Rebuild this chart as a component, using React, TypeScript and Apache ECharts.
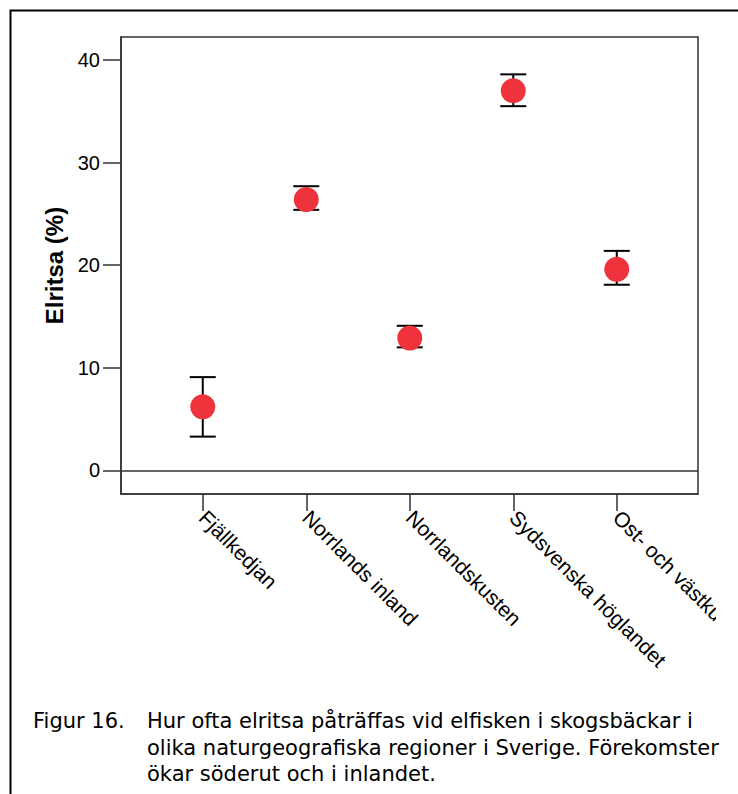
import React, { useEffect, useRef } from "react";
import * as echarts from "echarts";

const categories = [
  "Fjällkedjan",
  "Norrlands inland",
  "Norrlandskusten",
  "Sydsvenska höglandet",
  "Ost- och västkusten",
];
const categoryIndex = [0, 1, 2, 3, 4];
const means = [6.2, 26.4, 12.9, 37.0, 19.6];
const lower = [3.3, 25.4, 12.0, 35.5, 18.1];
const upper = [9.1, 27.7, 14.1, 38.6, 21.4];
const yTicks = [0, 10, 20, 30, 40];
const yAxisTitle = "Elritsa (%)";
const captionLabel = "Figur 16.";
const captionLines = [
  "Hur ofta elritsa påträffas vid elfisken i skogsbäckar i",
  "olika naturgeografiska regioner i Sverige. Förekomster",
  "ökar söderut och i inlandet.",
];

const FONT = "'Liberation Sans', Arial, Helvetica, sans-serif";
const CAPTION_FONT = "'DejaVu Sans', 'Liberation Sans', sans-serif";

export default function App() {
  const ref = useRef<HTMLDivElement>(null);
  useEffect(() => {
    if (!ref.current) return;
    const chart = echarts.init(ref.current, null, { renderer: "svg" });
    const axisColor = "#333";
    const option: any = {
      animation: false,
      backgroundColor: "#fff",
      textStyle: { fontFamily: FONT },
      grid: {
        left: 121,
        top: 37,
        width: 577,
        height: 457,
        show: true,
        borderColor: axisColor,
        borderWidth: 1.5,
        backgroundColor: "transparent",
        containLabel: false,
        outerBoundsMode: "none",
      },
      xAxis: {
        type: "value",
        min: -0.79,
        max: 4.785,
        splitLine: { show: false },
        axisLine: { show: true, onZero: false, lineStyle: { color: axisColor, width: 1.5 } },
        axisTick: {
          show: true,
          inside: false,
          length: 17,
          customValues: categoryIndex,
          lineStyle: { color: axisColor, width: 1.5 },
        },
        axisLabel: {
          show: true,
          customValues: categoryIndex,
          rotate: -45,
          margin: 20,
          fontSize: 21,
          color: "#000",
          fontFamily: FONT,
          formatter: (v: number) => categories[Math.round(v)] ?? "",
        },
      },
      yAxis: {
        type: "value",
        min: -2.29,
        max: 42.24,
        splitLine: { show: false },
        axisLine: { show: true, onZero: false, lineStyle: { color: axisColor, width: 1.5 } },
        axisTick: {
          show: true,
          inside: false,
          length: 18,
          customValues: yTicks,
          lineStyle: { color: axisColor, width: 1.5 },
        },
        axisLabel: {
          show: true,
          customValues: yTicks,
          margin: 21,
          fontSize: 20,
          color: "#000",
          fontFamily: FONT,
        },
        name: yAxisTitle,
        nameLocation: "middle",
        nameGap: 49,
        nameTextStyle: {
          fontSize: 24,
          fontWeight: "bold",
          color: "#000",
          fontFamily: FONT,
        },
      },
      series: [
        {
          type: "custom",
          data: categoryIndex.map((x, i) => [x, lower[i], upper[i]]),
          encode: { x: 0, y: [1, 2] },
          z: 2,
          renderItem: (params: any, api: any) => {
            const x = api.value(0);
            const lo = api.coord([x, api.value(1)]);
            const hi = api.coord([x, api.value(2)]);
            const half = 13;
            const style = { stroke: "#000", lineWidth: 2 };
            return {
              type: "group",
              children: [
                { type: "line", shape: { x1: lo[0], y1: lo[1], x2: hi[0], y2: hi[1] }, style },
                { type: "line", shape: { x1: lo[0] - half, y1: lo[1], x2: lo[0] + half, y2: lo[1] }, style },
                { type: "line", shape: { x1: hi[0] - half, y1: hi[1], x2: hi[0] + half, y2: hi[1] }, style },
              ],
            };
          },
        },
        {
          type: "scatter",
          data: categoryIndex.map((x, i) => [x, means[i]]),
          symbol: "circle",
          symbolSize: 25,
          itemStyle: { color: "#EF333D", opacity: 1 },
          z: 3,
          markLine: {
            silent: true,
            symbol: ["none", "none"],
            label: { show: false },
            lineStyle: { color: axisColor, width: 1.5, type: "solid" },
            data: [{ yAxis: 0 }],
          },
        },
      ],
      graphic: [
        {
          type: "rect",
          z: 100,
          shape: { x: 716, y: 500, width: 40, height: 190 },
          style: { fill: "#fff" },
        },
        {
          type: "rect",
          z: 101,
          shape: { x: 10.5, y: 10.5, width: 800, height: 900 },
          style: { fill: "none", stroke: "#000", lineWidth: 2 },
        },
        {
          type: "text",
          z: 101,
          x: 33,
          y: 721,
          style: {
            text: captionLabel,
            fontSize: 21,
            fontFamily: CAPTION_FONT,
            fill: "#000",
            verticalAlign: "middle",
            align: "left",
          },
        },
        ...captionLines.map((t, i) => ({
          type: "text",
          z: 101,
          x: 147,
          y: 721 + i * 26.5,
          style: {
            text: t,
            fontSize: 21,
            fontFamily: CAPTION_FONT,
            fill: "#000",
            verticalAlign: "middle",
            align: "left",
          },
        })),
      ],
    };
    chart.setOption(option);
    return () => chart.dispose();
  }, []);
  return (
    <div
      ref={ref}
      style={{ position: "fixed", left: 0, top: 0, width: 738, height: 794, background: "#fff" }}
    />
  );
}
